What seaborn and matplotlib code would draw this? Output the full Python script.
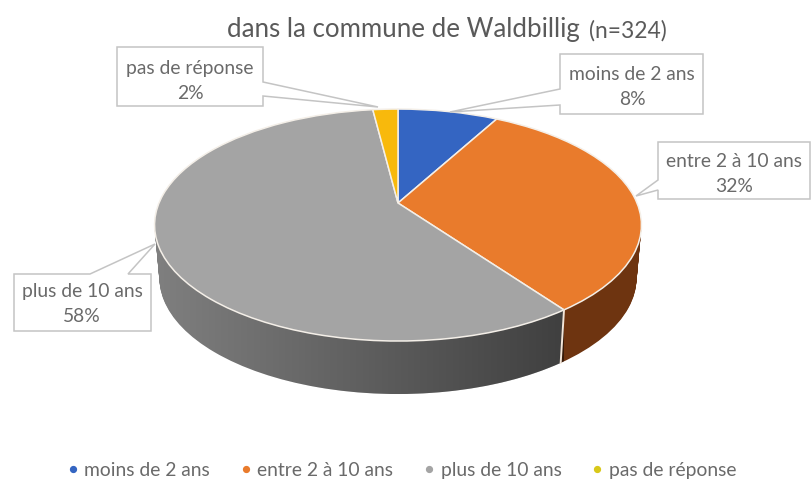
import numpy as np
import matplotlib
matplotlib.use("Agg")
import matplotlib.pyplot as plt
import seaborn as sns
from matplotlib.lines import Line2D
from matplotlib.patches import Polygon
from matplotlib.transforms import Transform

categories = ["moins de 2 ans", "entre 2 à 10 ans", "plus de 10 ans", "pas de réponse"]
shares = [8, 32, 58, 2]
top_colors = ["#3465c2", "#e97b2c", "#a4a4a4", "#f8b90c"]
side_colors = ["#1f3c74", "#6e3410", "#7f7f7f", "#94700a"]

sns.set_theme(style="white")
plt.rcParams["font.family"] = ["Lato", "DejaVu Sans"]
TEXT = "#6a6a6a"
EDGE = "#c4c4c4"
FS = 13.9


# perspective view of the flat unit pie, output in image pixels
class PieView(Transform):
    input_dims = 2
    output_dims = 2

    def __init__(self, drop=0.0):
        super().__init__()
        self.drop = drop

    def transform_non_affine(self, xy):
        xy = np.asarray(xy, dtype=float)
        w = 1 + 0.19 * xy[:, 1]
        shrink = 1 - 0.02 * self.drop / 53
        return np.column_stack(
            [398 + shrink * 239 * xy[:, 0] / w, 204 - 111.8 * xy[:, 1] / w + self.drop]
        )


fig = plt.figure(figsize=(8.11, 4.81), dpi=100)
ax = fig.add_axes([0, 0, 1, 1])


def draw_pie(colors, drop, **wedge):
    patches, _ = ax.pie(
        shares, colors=colors, startangle=90, counterclock=False, wedgeprops=wedge
    )
    view = PieView(drop) + ax.transData
    for p in patches:
        p.set_transform(view)
    return patches


# side wall, stacked from the bottom up
for d in range(53, 0, -1):
    draw_pie(side_colors, d, linewidth=0)

# left to right darkening on the grey wall
theta = np.radians(np.linspace(150, 390, 200))
rim = np.column_stack([np.cos(theta), np.sin(theta)])
hull = np.vstack(
    [PieView(0).transform_non_affine(rim), PieView(53).transform_non_affine(rim)[::-1]]
)
shade = np.zeros((2, 200, 4))
shade[:, :, 3] = np.linspace(0, 0.5, 200)
img = ax.imshow(shade, extent=(153, 564, 400, 230), aspect="auto", zorder=1.01)
img.set_clip_path(Polygon(hull, transform=ax.transData))

# top face
for p in draw_pie(top_colors, 0, linewidth=1.1, edgecolor="#f4efe8"):
    p.set_zorder(2)

# seam on the wall between grey and orange
seam = np.radians(90 - 360 * sum(shares[:2]) / sum(shares))
seam_xy = np.array([[np.cos(seam), np.sin(seam)]])
p0 = PieView(0).transform_non_affine(seam_xy)[0]
p1 = PieView(53).transform_non_affine(seam_xy)[0]
ax.plot([p0[0], p1[0]], [p0[1], p1[1]], color="#f2e6da", lw=1.4, zorder=2)

ax.set_aspect("auto")
ax.set_xlim(0, 811)
ax.set_ylim(481, 0)
ax.axis("off")

# data labels with their callouts
callouts = [
    [(560, 55), (703, 55), (703, 115), (560, 115), (560, 106), (450, 113), (560, 90)],
    [(658, 143), (810, 143), (810, 200), (658, 200), (658, 191), (636, 197), (658, 181)],
    [(14, 275), (90, 275), (155, 245), (128, 275), (151, 275), (151, 332), (14, 332)],
    [(117, 48), (263, 48), (263, 83), (378, 108), (263, 97), (263, 107), (117, 107)],
]
label_xy = [(632, 87), (734, 174), (82, 304), (190, 81)]
for name, share, outline, (x, y) in zip(categories, shares, callouts, label_xy):
    ax.add_patch(Polygon(outline, closed=True, fc="white", ec=EDGE, lw=1.1, zorder=3))
    ax.text(x, y, f"{name}\n{share}%", ha="center", va="center", color=TEXT,
            fontsize=FS, linespacing=1.58, zorder=4)

# title
ax.text(227, 30, "dans la commune de Waldbillig", color="#5a5a5a", fontsize=18.6,
        va="center", ha="left")
ax.text(589, 31, "(n=324)", color="#5a5a5a", fontsize=16.4, va="center", ha="left")

# legend
handles = [
    Line2D([], [], ls="", marker="o", ms=4.2, color=c) for c in top_colors[:3] + ["#d8c81a"]
]
ax.legend(handles, categories, ncol=4, loc="center", bbox_to_anchor=(401 / 811, 1 - 471 / 481),
          frameon=False, fontsize=FS, labelcolor=TEXT, handlelength=0.7, handletextpad=0.25,
          columnspacing=1.5, borderpad=0)

fig.savefig("out.png", dpi=100)
